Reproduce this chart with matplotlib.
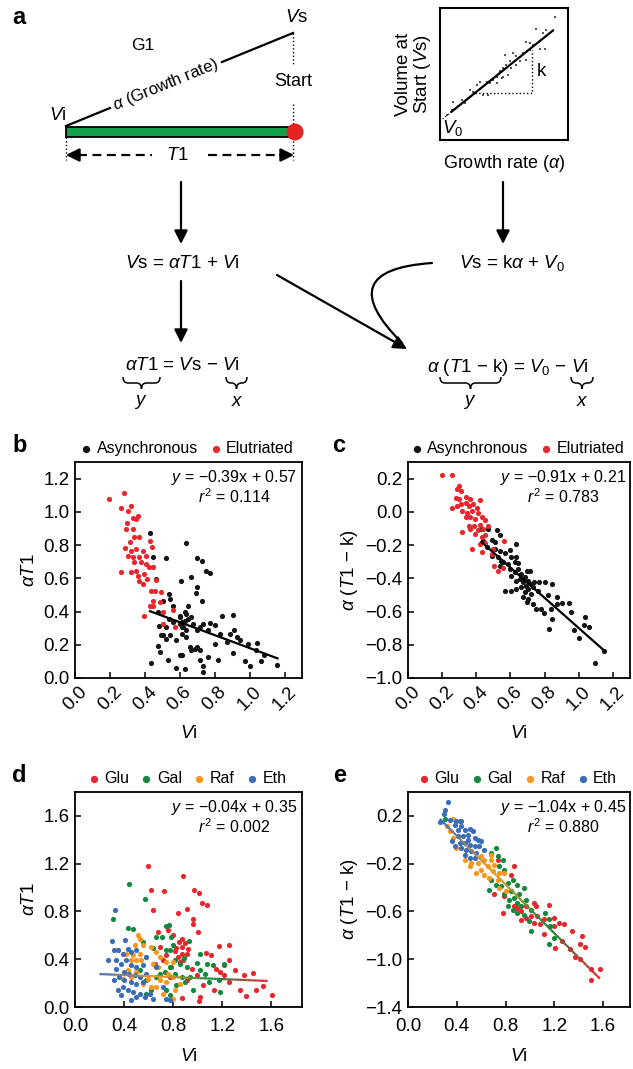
import numpy as np
import matplotlib
matplotlib.use('Agg')
import matplotlib.pyplot as plt
from matplotlib.patches import Rectangle, Circle, FancyArrowPatch, PathPatch
from matplotlib.path import Path
from matplotlib.collections import LineCollection
from matplotlib.colors import LinearSegmentedColormap
from matplotlib.ticker import FuncFormatter

plt.rcParams['font.family'] = ['Liberation Sans', 'DejaVu Sans']
plt.rcParams['mathtext.fontset'] = 'custom'
plt.rcParams['mathtext.rm'] = 'Liberation Sans'
plt.rcParams['mathtext.it'] = 'Liberation Sans:italic'
plt.rcParams['mathtext.bf'] = 'Liberation Sans:bold'

# colours
RED = '#e8262d'
BLACK = '#151515'
GREEN = '#13893f'
ORANGE = '#f7981d'
BLUE = '#3a6cb8'

# ---- panel a inset (box fraction units) ----
inset_dots = np.array([
    [0.896, 0.932], [0.753, 0.841], [0.805, 0.810], [0.831, 0.835], [0.675, 0.739], [0.727, 0.722],
    [0.779, 0.689], [0.818, 0.689], [0.701, 0.684], [0.649, 0.658], [0.597, 0.633], [0.571, 0.658],
    [0.545, 0.595], [0.597, 0.570], [0.519, 0.570], [0.494, 0.544], [0.558, 0.544], [0.468, 0.519],
    [0.532, 0.494], [0.442, 0.481], [0.481, 0.468], [0.416, 0.456], [0.390, 0.430], [0.364, 0.443],
    [0.312, 0.443], [0.286, 0.418], [0.234, 0.380], [0.260, 0.367], [0.338, 0.342], [0.377, 0.342],
    [0.169, 0.304], [0.195, 0.278], [0.104, 0.291], [0.143, 0.258], [0.091, 0.228], [0.052, 0.190],
    [0.442, 0.430], [0.623, 0.595], [0.675, 0.608], [0.494, 0.481], [0.506, 0.646], [0.701, 0.734]])
inset_fit_x = [0.091, 0.883]
inset_fit_y = [0.215, 0.830]

# ---- panel b ----
b_async = np.array([
    [0.431, 0.872], [0.446, 0.726], [0.523, 0.720], [0.465, 0.596], [0.638, 0.812], [0.700, 0.724],
    [0.725, 0.706], [0.750, 0.646], [0.773, 0.630], [0.662, 0.606], [0.606, 0.582], [0.696, 0.546],
    [0.692, 0.510], [0.725, 0.462], [0.538, 0.506], [0.546, 0.476], [0.504, 0.466], [0.562, 0.436],
    [0.648, 0.436], [0.629, 0.396], [0.475, 0.396], [0.479, 0.310], [0.523, 0.306], [0.504, 0.256],
    [0.494, 0.256], [0.538, 0.356], [0.562, 0.336], [0.600, 0.366], [0.610, 0.336], [0.619, 0.306],
    [0.638, 0.286], [0.648, 0.356], [0.667, 0.366], [0.677, 0.326], [0.696, 0.286], [0.715, 0.306],
    [0.735, 0.326], [0.763, 0.286], [0.773, 0.330], [0.802, 0.320], [0.840, 0.376], [0.904, 0.382],
    [0.908, 0.290], [0.888, 0.266], [0.946, 0.226], [0.988, 0.206], [1.042, 0.210], [1.038, 0.166],
    [1.081, 0.136], [1.158, 0.076], [0.975, 0.102], [1.004, 0.070], [1.065, 0.100], [0.904, 0.150],
    [0.821, 0.106], [0.763, 0.126], [0.713, 0.106], [0.687, 0.176], [0.667, 0.166], [0.696, 0.186],
    [0.658, 0.186], [0.715, 0.166], [0.615, 0.136], [0.600, 0.136], [0.533, 0.106], [0.577, 0.062],
    [0.629, 0.056], [0.731, 0.036], [0.735, 0.070], [0.437, 0.092], [0.485, 0.156], [0.475, 0.190],
    [0.523, 0.236], [0.546, 0.256], [0.581, 0.226], [0.610, 0.262], [0.638, 0.246], [0.600, 0.326],
    [0.615, 0.306], [0.629, 0.346], [0.600, 0.376], [0.638, 0.386], [0.831, 0.266], [0.869, 0.216],
    [0.927, 0.246], [0.802, 0.206]])
b_elu = np.array([
    [0.196, 1.076], [0.283, 1.112], [0.263, 1.026], [0.321, 1.036], [0.302, 1.006], [0.331, 0.962],
    [0.360, 0.976], [0.350, 0.956], [0.296, 0.930], [0.292, 0.896], [0.331, 0.896], [0.340, 0.846],
    [0.369, 0.850], [0.315, 0.816], [0.288, 0.780], [0.321, 0.766], [0.350, 0.776], [0.388, 0.766],
    [0.427, 0.826], [0.442, 0.786], [0.302, 0.736], [0.331, 0.730], [0.369, 0.726], [0.408, 0.736],
    [0.340, 0.696], [0.379, 0.696], [0.408, 0.686], [0.423, 0.666], [0.446, 0.670], [0.263, 0.636],
    [0.321, 0.636], [0.350, 0.646], [0.360, 0.616], [0.398, 0.626], [0.369, 0.586], [0.392, 0.566],
    [0.415, 0.596], [0.465, 0.590], [0.437, 0.526], [0.456, 0.522], [0.494, 0.520], [0.446, 0.466],
    [0.427, 0.436], [0.398, 0.376], [0.446, 0.436], [0.504, 0.396], [0.562, 0.410], [0.504, 0.326],
    [0.571, 0.306], [0.485, 0.456]])
b_fit_x = [0.43, 1.16]
b_fit_y = [0.402, 0.118]

# ---- panel c ----
c_async = np.array([
    [0.429, -0.104], [0.471, -0.104], [0.519, -0.108], [0.538, -0.138], [0.490, -0.170], [0.510, -0.184],
    [0.442, -0.174], [0.462, -0.214], [0.510, -0.224], [0.490, -0.264], [0.529, -0.270], [0.538, -0.234],
    [0.567, -0.250], [0.596, -0.230], [0.631, -0.194], [0.606, -0.274], [0.635, -0.270], [0.544, -0.294],
    [0.558, -0.304], [0.587, -0.314], [0.625, -0.304], [0.644, -0.310], [0.538, -0.324], [0.596, -0.344],
    [0.644, -0.344], [0.625, -0.364], [0.606, -0.384], [0.663, -0.374], [0.698, -0.354], [0.717, -0.358],
    [0.683, -0.394], [0.654, -0.404], [0.635, -0.418], [0.673, -0.424], [0.702, -0.414], [0.740, -0.424],
    [0.769, -0.424], [0.804, -0.424], [0.721, -0.434], [0.692, -0.444], [0.663, -0.454], [0.635, -0.464],
    [0.606, -0.474], [0.567, -0.474], [0.702, -0.464], [0.731, -0.454], [0.760, -0.474], [0.683, -0.484],
    [0.721, -0.494], [0.702, -0.524], [0.673, -0.514], [0.698, -0.544], [0.731, -0.554], [0.750, -0.584],
    [0.779, -0.584], [0.798, -0.610], [0.846, -0.434], [0.817, -0.498], [0.875, -0.514], [0.904, -0.550],
    [0.942, -0.550], [0.875, -0.554], [0.837, -0.584], [0.842, -0.644], [0.823, -0.704], [0.952, -0.604],
    [0.971, -0.710], [1.000, -0.758], [1.038, -0.634], [1.029, -0.684], [1.058, -0.694], [1.096, -0.910],
    [1.148, -0.838]])
c_elu = np.array([
    [0.198, 0.222], [0.260, 0.222], [0.298, 0.156], [0.288, 0.136], [0.313, 0.126], [0.279, 0.086],
    [0.298, 0.076], [0.337, 0.090], [0.365, 0.076], [0.423, 0.072], [0.260, 0.022], [0.288, 0.036],
    [0.308, 0.046], [0.337, 0.056], [0.356, 0.036], [0.379, 0.046], [0.404, 0.026], [0.317, 0.006],
    [0.346, -0.004], [0.375, 0.006], [0.410, -0.004], [0.337, -0.030], [0.365, -0.034], [0.433, -0.030],
    [0.394, -0.044], [0.448, -0.050], [0.356, -0.084], [0.385, -0.084], [0.423, -0.078], [0.471, -0.084],
    [0.365, -0.104], [0.410, -0.110], [0.442, -0.104], [0.317, -0.124], [0.394, -0.134], [0.433, -0.150],
    [0.452, -0.138], [0.375, -0.224], [0.433, -0.244], [0.500, -0.224], [0.490, -0.254], [0.563, -0.174],
    [0.504, -0.328], [0.529, -0.358], [0.558, -0.338], [0.423, -0.194], [0.452, -0.190]])
c_fit_x = [0.43, 1.15]
c_fit_y = [-0.181, -0.836]

# ---- panel d ----
d_glu = np.array([
    [0.595, 1.179], [0.622, 0.983], [0.723, 0.972], [0.882, 1.098], [0.973, 0.978], [1.011, 0.955],
    [1.036, 0.874], [1.074, 0.852], [0.636, 0.816], [0.915, 0.818], [0.836, 0.788], [0.964, 0.740],
    [0.959, 0.693], [0.679, 0.628], [0.759, 0.642], [1.005, 0.626], [0.800, 0.600], [0.868, 0.573],
    [0.849, 0.545], [0.896, 0.536], [0.874, 0.503], [0.827, 0.497], [0.923, 0.489], [0.814, 0.469],
    [0.868, 0.447], [0.910, 0.441], [0.841, 0.419], [0.882, 0.397], [0.855, 0.377], [1.170, 0.508],
    [1.252, 0.517], [1.068, 0.453], [1.107, 0.433], [1.252, 0.391], [1.211, 0.349], [1.151, 0.321],
    [1.184, 0.293], [1.307, 0.307], [1.375, 0.265], [1.449, 0.285], [1.211, 0.265], [1.252, 0.209],
    [1.348, 0.140], [1.397, 0.095], [1.479, 0.140], [1.532, 0.176], [1.603, 0.103], [1.129, 0.140],
    [1.041, 0.182], [1.019, 0.084], [1.014, 0.050], [0.868, 0.078], [0.745, 0.433], [0.690, 0.503],
    [0.718, 0.391], [0.786, 0.335], [0.951, 0.321], [0.992, 0.265], [0.910, 0.223], [0.773, 0.251],
    [0.649, 0.363]])
d_gal = np.array([
    [0.444, 1.028], [0.567, 0.902], [0.307, 0.737], [0.430, 0.659], [0.471, 0.656], [0.745, 0.679],
    [0.767, 0.684], [0.712, 0.587], [0.781, 0.587], [0.929, 0.553], [0.553, 0.545], [0.740, 0.475],
    [0.778, 0.480], [0.800, 0.517], [0.636, 0.497], [0.890, 0.411], [0.855, 0.363], [0.910, 0.335],
    [0.992, 0.369], [1.019, 0.307], [1.074, 0.363], [1.123, 0.349], [1.211, 0.357], [1.170, 0.223],
    [1.184, 0.126], [1.088, 0.209], [0.773, 0.335], [0.732, 0.293], [0.690, 0.279], [0.663, 0.251],
    [0.814, 0.279], [0.868, 0.251], [0.937, 0.251], [0.896, 0.209], [0.827, 0.182], [0.964, 0.140],
    [0.745, 0.140], [0.773, 0.098], [0.622, 0.140], [0.581, 0.223], [0.526, 0.307], [1.019, 0.447],
    [0.663, 0.587], [0.814, 0.391], [1.060, 0.279], [0.581, 0.112]])
d_raf = np.array([
    [0.512, 0.601], [0.526, 0.573], [0.348, 0.480], [0.485, 0.517], [0.553, 0.517], [0.416, 0.447],
    [0.471, 0.433], [0.458, 0.391], [0.526, 0.447], [0.499, 0.391], [0.540, 0.397], [0.581, 0.419],
    [0.622, 0.503], [0.663, 0.461], [0.690, 0.419], [0.636, 0.363], [0.677, 0.335], [0.745, 0.377],
    [0.800, 0.377], [0.759, 0.279], [0.800, 0.251], [0.690, 0.223], [0.663, 0.168], [0.622, 0.168],
    [0.553, 0.196], [0.595, 0.237], [0.745, 0.209], [0.814, 0.140], [0.718, 0.112], [0.800, 0.070],
    [0.458, 0.251], [0.499, 0.293], [0.430, 0.307], [0.389, 0.237], [0.855, 0.196]])
d_eth = np.array([
    [0.326, 0.810], [0.299, 0.550], [0.266, 0.391], [0.411, 0.559], [0.348, 0.475], [0.321, 0.480],
    [0.389, 0.447], [0.430, 0.489], [0.458, 0.461], [0.499, 0.475], [0.416, 0.391], [0.375, 0.363],
    [0.334, 0.321], [0.458, 0.349], [0.499, 0.335], [0.553, 0.349], [0.403, 0.293], [0.444, 0.279],
    [0.485, 0.265], [0.526, 0.251], [0.581, 0.279], [0.362, 0.251], [0.403, 0.223], [0.458, 0.209],
    [0.499, 0.196], [0.553, 0.209], [0.348, 0.140], [0.389, 0.168], [0.430, 0.140], [0.471, 0.126],
    [0.526, 0.112], [0.567, 0.084], [0.458, 0.056], [0.499, 0.084], [0.608, 0.112], [0.636, 0.070],
    [0.745, 0.070], [0.773, 0.056], [0.718, 0.168], [0.663, 0.335], [0.375, 0.098], [0.321, 0.223],
    [0.581, 0.419], [0.334, 0.391]])
d_fit_x = [0.20, 1.57]
d_fit_y = [0.276, 0.218]

# ---- panel e ----
e_glu = np.array([
    [0.735, -0.166], [0.870, -0.216], [0.843, -0.291], [0.789, -0.472], [0.776, -0.612], [0.870, -0.556],
    [0.897, -0.570], [0.924, -0.598], [0.965, -0.556], [1.032, -0.528], [1.046, -0.556], [1.005, -0.640],
    [1.059, -0.640], [0.965, -0.654], [1.032, -0.695], [1.086, -0.709], [1.114, -0.667], [1.154, -0.548],
    [1.195, -0.654], [1.235, -0.695], [1.281, -0.701], [1.195, -0.723], [1.114, -0.793], [1.208, -0.904],
    [1.262, -0.849], [1.343, -0.765], [1.424, -0.807], [1.411, -0.876], [1.451, -0.899], [1.330, -0.913],
    [1.370, -0.979], [1.411, -1.002], [1.497, -1.085], [1.500, -1.177], [1.573, -1.085], [0.708, -0.458],
    [0.924, -0.668]])
e_gal = np.array([
    [0.303, 0.174], [0.438, 0.154], [0.722, -0.069], [0.681, -0.110], [0.735, -0.138], [0.776, -0.166],
    [0.749, -0.222], [0.789, -0.249], [0.681, -0.333], [0.722, -0.375], [0.668, -0.417], [0.762, -0.389],
    [0.816, -0.361], [0.857, -0.333], [0.897, -0.375], [0.951, -0.403], [0.843, -0.431], [0.789, -0.458],
    [0.830, -0.500], [0.870, -0.486], [0.911, -0.458], [0.965, -0.500], [0.897, -0.528], [0.816, -0.556],
    [0.857, -0.584], [0.897, -0.612], [0.951, -0.626], [0.992, -0.681], [1.005, -0.765], [1.127, -0.612],
    [1.154, -0.662], [1.168, -0.723], [1.195, -0.821], [1.154, -0.876], [1.005, -0.584], [0.924, -0.556]])
e_raf = np.array([
    [0.365, 0.174], [0.316, 0.113], [0.343, 0.071], [0.370, 0.015], [0.397, -0.069], [0.465, -0.166],
    [0.519, -0.194], [0.559, -0.277], [0.600, -0.249], [0.627, -0.166], [0.681, -0.166], [0.654, -0.222],
    [0.708, -0.208], [0.695, -0.263], [0.749, -0.277], [0.627, -0.291], [0.668, -0.319], [0.735, -0.333],
    [0.789, -0.277], [0.749, -0.403], [0.681, -0.124], [0.573, -0.194], [0.505, -0.222], [0.600, -0.138],
    [0.803, -0.431]])
e_eth = np.array([
    [0.324, 0.313], [0.303, 0.246], [0.297, 0.218], [0.262, 0.146], [0.343, 0.168], [0.397, 0.154],
    [0.424, 0.154], [0.384, 0.126], [0.438, 0.113], [0.411, 0.085], [0.465, 0.085], [0.505, 0.090],
    [0.532, 0.071], [0.357, -0.013], [0.411, 0.029], [0.451, 0.029], [0.492, 0.043], [0.546, 0.015],
    [0.573, 0.001], [0.600, -0.013], [0.424, -0.027], [0.465, -0.027], [0.505, -0.041], [0.546, -0.049],
    [0.586, -0.055], [0.438, -0.069], [0.478, -0.082], [0.519, -0.096], [0.559, -0.110], [0.465, -0.124],
    [0.505, -0.152], [0.546, -0.152], [0.627, -0.082], [0.492, 0.001], [0.389, -0.055]])
e_fit_x = [0.262, 1.573]
e_fit_y = [0.174, -1.163]

W, H = 633, 1069
fig = plt.figure(figsize=(W / 100, H / 100), dpi=100)

# background axes in pixel units for the diagram
bg = fig.add_axes([0, 0, 1, 1])
bg.set_xlim(0, W)
bg.set_ylim(H, 0)
bg.axis('off')

FS = 12.5
EQ = 13.5


def arrow(p0, p1, **kw):
    bg.add_patch(FancyArrowPatch(p0, p1, arrowstyle='-|>', mutation_scale=20, lw=1.6,
                                 color='k', shrinkA=0, shrinkB=0, **kw))


def brace(x0, x1, y, h=12, r=5):
    xm = (x0 + x1) / 2
    q = y + h / 2
    verts = [(x0, y), (x0, q), (x0 + r, q), (xm - r, q), (xm, q), (xm, y + h),
             (xm, y + h), (xm, q), (xm + r, q), (x1 - r, q), (x1, q), (x1, y)]
    codes = [Path.MOVETO, Path.CURVE3, Path.CURVE3, Path.LINETO, Path.CURVE3, Path.CURVE3,
             Path.MOVETO, Path.CURVE3, Path.CURVE3, Path.LINETO, Path.CURVE3, Path.CURVE3]
    bg.add_patch(PathPatch(Path(verts, codes), fc='none', ec='k', lw=1.1))


# ---- panel a: G1 scheme ----
bg.text(12, 18, 'a', fontsize=17, fontweight='bold', va='center')
bg.text(143, 45, 'G1', fontsize=FS, ha='center', va='center')
bg.text(297, 18, r'$V$s', fontsize=EQ, ha='center', va='center')
bg.text(58, 116, r'$V$i', fontsize=EQ, ha='center', va='center')
bg.plot([66, 110], [126, 108], color='k', lw=1.6)
bg.plot([222, 293], [62, 33], color='k', lw=1.6)
bg.text(166, 85, r'$\alpha$ (Growth rate)', fontsize=12, rotation=22.3,
        ha='center', va='center', rotation_mode='anchor')
bg.text(293, 82, 'Start', fontsize=13, ha='center', va='center')
bg.plot([293, 293], [33, 64], color='k', lw=1, ls=':')
bg.plot([293, 293], [104, 160], color='k', lw=1, ls=':')
bg.plot([66, 66], [137, 160], color='k', lw=1, ls=':')
bg.add_patch(Rectangle((66, 127), 227, 10, fc='#12a04a', ec='k', lw=1.3, zorder=3))
bg.add_patch(Circle((295, 132), 8.5, fc='#e52421', ec='none', zorder=4))
bg.plot([78, 152], [155, 155], color='k', lw=1.6, ls=(0, (4, 2.5)))
bg.plot([208, 282], [155, 155], color='k', lw=1.6, ls=(0, (4, 2.5)))
arrow((80, 155), (66, 155))
arrow((280, 155), (294, 155))
bg.text(177, 156, r'$T$1', fontsize=EQ, ha='center', va='center')

# inset: Vs versus growth rate
ins = fig.add_axes([440 / W, 1 - 140 / H, 128 / W, 132 / H])
ins.scatter(inset_dots[:, 0], inset_dots[:, 1], s=1.5, c='#555555', marker='s', lw=0)
ins.plot(inset_fit_x, inset_fit_y, color='k', lw=1.6)
slope = (inset_fit_y[1] - inset_fit_y[0]) / (inset_fit_x[1] - inset_fit_x[0])
ins.plot([0, inset_fit_x[0]], [inset_fit_y[0] - slope * inset_fit_x[0], inset_fit_y[0]],
         color='k', lw=0.9, ls=':')
ins.plot([0.273, 0.719, 0.719], [0.354, 0.354, 0.684], color='k', lw=1, ls=':')
ins.text(0.79, 0.52, 'k', fontsize=EQ, ha='center', va='center')
ins.text(0.10, 0.09, r'$V_0$', fontsize=EQ, ha='center', va='center')
ins.set_xlim(0, 1)
ins.set_ylim(0, 1)
ins.set_xticks([])
ins.set_yticks([])
for s in ins.spines.values():
    s.set_linewidth(1.5)
ins.set_xlabel(r'Growth rate ($\alpha$)', fontsize=13, labelpad=9)
ins.set_ylabel('Volume at\n' + r'Start ($V$s)', fontsize=13.5, labelpad=5, linespacing=1.0)

# ---- flow of equations ----
arrow((181, 182), (181, 244))
bg.text(182, 263, r'$V$s = $\alpha T$1 + $V$i', fontsize=EQ, ha='center', va='center')
arrow((181, 281), (181, 343))
bg.text(182, 366, r'$\alpha T$1 = $V$s $-$ $V$i', fontsize=EQ, ha='center', va='center')
brace(123, 160, 377)
brace(226, 247, 377)
bg.text(141, 402, r'$y$', fontsize=EQ, ha='center', va='center')
bg.text(237, 402, r'$x$', fontsize=EQ, ha='center', va='center')

arrow((503, 182), (503, 244))
bg.text(512, 263, r'$V$s = k$\alpha$ + $V_0$', fontsize=EQ, ha='center', va='center')
arrow((277, 275), (407, 349))
bg.add_patch(FancyArrowPatch((432, 263), (402, 343), arrowstyle='-', lw=1.6, color='k',
                             connectionstyle='arc3,rad=1.1', shrinkA=0, shrinkB=0))
bg.text(508, 368, r'$\alpha$ ($T$1 $-$ k) = $V_0$ $-$ $V$i', fontsize=EQ, ha='center', va='center')
brace(440, 501, 377)
brace(571, 593, 377)
bg.text(470, 402, r'$y$', fontsize=EQ, ha='center', va='center')
bg.text(582, 402, r'$x$', fontsize=EQ, ha='center', va='center')

# ---- scatter panels ----
fmt = FuncFormatter(lambda v, p: ('%.1f' % (0.0 if abs(v) < 1e-9 else v)).replace('-', '\u2212'))
grad = LinearSegmentedColormap.from_list('g', [BLUE, ORANGE, GREEN, RED])
TFS = 13.5


def panel(rect, letter, lpos, groups, fit_x, fit_y, xlim, ylim, xticks, yticks, ylabel, eq, r2,
          rot, gradient=False):
    ax = fig.add_axes(rect)
    for pts, col, lab in groups:
        ax.scatter(pts[:, 0], pts[:, 1], s=14, c=col, lw=0, label=lab, zorder=2)
    if gradient:
        xs = np.linspace(fit_x[0], fit_x[1], 60)
        ys = np.interp(xs, fit_x, fit_y)
        seg = np.stack([np.column_stack([xs[:-1], ys[:-1]]), np.column_stack([xs[1:], ys[1:]])], axis=1)
        lc = LineCollection(seg, cmap=grad, lw=1.6, zorder=3)
        lc.set_array(np.linspace(0, 1, len(seg)))
        ax.add_collection(lc)
    else:
        ax.plot(fit_x, fit_y, color='k', lw=1.6, zorder=3)
    ax.set_xlim(*xlim)
    ax.set_ylim(*ylim)
    ax.set_xticks(xticks)
    ax.set_yticks(yticks)
    ax.xaxis.set_major_formatter(fmt)
    ax.yaxis.set_major_formatter(fmt)
    ax.tick_params(direction='in', length=4, width=1.1, labelsize=TFS, pad=4)
    if rot:
        plt.setp(ax.get_xticklabels(), rotation=45, ha='center')
        ax.set_xlabel(r'$V$i', fontsize=TFS, labelpad=8)
    else:
        ax.tick_params(axis='x', pad=8)
        ax.set_xlabel(r'$V$i', fontsize=TFS, labelpad=9)
    for s in ax.spines.values():
        s.set_linewidth(1.3)
    ax.set_ylabel(ylabel, fontsize=TFS, labelpad=4)
    ax.text(0.70, 0.93, r'$y$ = ' + eq, transform=ax.transAxes, fontsize=11.5, ha='center', va='center')
    ax.text(0.70, 0.84, r'$r^2$ = ' + r2, transform=ax.transAxes, fontsize=11.5, ha='center', va='center')
    ax.legend(loc='lower center', bbox_to_anchor=(0.5, 0.99), ncol=len(groups), frameon=False,
              fontsize=11.5, handlelength=0.4, handletextpad=0.45, columnspacing=0.9,
              borderaxespad=0.1, scatterpoints=1, markerscale=1.4)
    fig.text(lpos[0] / W, 1 - lpos[1] / H, letter, fontsize=17, fontweight='bold', va='center')
    return ax


panel([75 / W, 1 - 678 / H, 227 / W, 216 / H], 'b', (12, 446),
      [(b_async, BLACK, 'Asynchronous'), (b_elu, RED, 'Elutriated')],
      b_fit_x, b_fit_y, (0, 1.3), (0, 1.3), np.arange(0, 1.21, 0.2), np.arange(0, 1.21, 0.2),
      r'$\alpha T$1', '\u22120.39x + 0.57', '0.114', True)
panel([408 / W, 1 - 678 / H, 222 / W, 216 / H], 'c', (332, 446),
      [(c_async, BLACK, 'Asynchronous'), (c_elu, RED, 'Elutriated')],
      c_fit_x, c_fit_y, (0, 1.3), (-1.0, 0.3), np.arange(0, 1.21, 0.2), np.arange(-1.0, 0.21, 0.2),
      r'$\alpha$ ($T$1 $-$ k)', '\u22120.91x + 0.21', '0.783', True)
panel([75 / W, 1 - 1007 / H, 227 / W, 215 / H], 'd', (12, 776),
      [(d_glu, RED, 'Glu'), (d_gal, GREEN, 'Gal'), (d_raf, ORANGE, 'Raf'), (d_eth, BLUE, 'Eth')],
      d_fit_x, d_fit_y, (0, 1.85), (0, 1.8), np.arange(0, 1.61, 0.4), np.arange(0, 1.61, 0.4),
      r'$\alpha T$1', '\u22120.04x + 0.35', '0.002', False, gradient=True)
panel([408 / W, 1 - 1007 / H, 222 / W, 215 / H], 'e', (333, 776),
      [(e_glu, RED, 'Glu'), (e_gal, GREEN, 'Gal'), (e_raf, ORANGE, 'Raf'), (e_eth, BLUE, 'Eth')],
      e_fit_x, e_fit_y, (0, 1.82), (-1.4, 0.4), np.arange(0, 1.61, 0.4), np.arange(-1.4, 0.21, 0.4),
      r'$\alpha$ ($T$1 $-$ k)', '\u22121.04x + 0.45', '0.880', False, gradient=True)

fig.savefig('out.png', dpi=100)
